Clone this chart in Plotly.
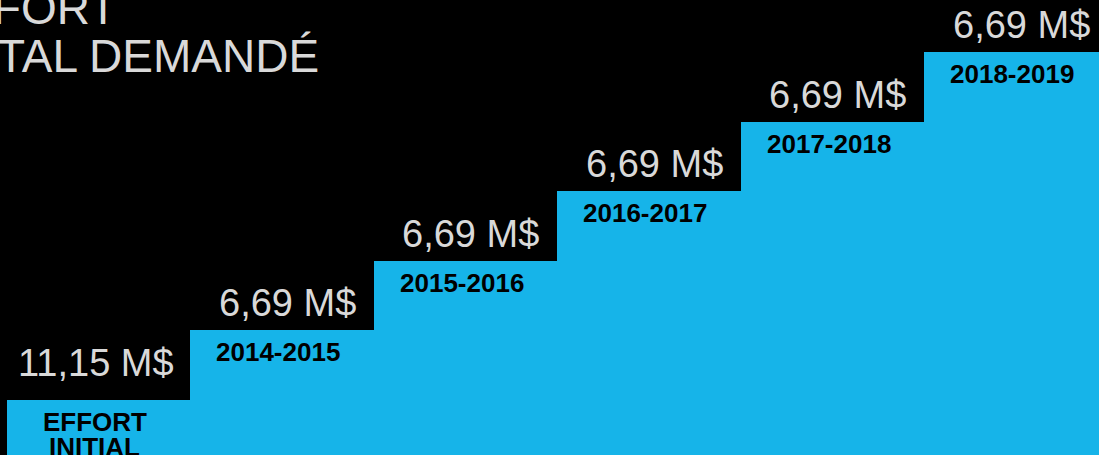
import plotly.graph_objects as go

# Data
categories = ["EFFORT<br>INITIAL", "2014-2015", "2015-2016", "2016-2017", "2017-2018", "2018-2019"]
amount_labels = ["11,15 M$", "6,69 M$", "6,69 M$", "6,69 M$", "6,69 M$", "6,69 M$"]
cumulative_totals = [11.15, 17.84, 24.53, 31.22, 37.91, 44.60]
title_lines = ["EFFORT", "TOTAL DEMANDÉ"]

BLUE = "#16B4E9"
GREY = "#D9D9D9"
FONT = "Liberation Sans, Arial, sans-serif"

x_pos = list(range(len(categories)))

fig = go.Figure()
fig.add_trace(go.Bar(
    x=x_pos, y=cumulative_totals, width=1.0,
    marker=dict(color=BLUE, line=dict(width=0)),
    hoverinfo="skip", showlegend=False,
))

annotations = []
# value labels above each step
for i, (lab, tot) in enumerate(zip(amount_labels, cumulative_totals)):
    annotations.append(dict(
        x=i, y=tot, xref="x", yref="y", text=lab, showarrow=False,
        xanchor="center", yanchor="bottom", xshift=(-3 if i == 0 else 5),
        yshift=(14 if i == 0 else 4),
        font=dict(family=FONT, size=38, color=GREY),
    ))
# category labels below each step top
for i, (cat, tot) in enumerate(zip(categories, cumulative_totals)):
    for j, line in enumerate(cat.split("<br>")):
        annotations.append(dict(
            x=i, y=tot, xref="x", yref="y", text="<b>%s</b>" % line, showarrow=False,
            xanchor="center", yanchor="top", xshift=-4,
            yshift=(-5 if i == 0 else -5) - 25 * j,
            font=dict(family=FONT, size=26, color="#000000"),
        ))
# title (cut off at the left and top edges as in the original)
for j, line in enumerate(title_lines):
    annotations.append(dict(
        x=0, y=1, xref="paper", yref="paper", text=line, showarrow=False,
        xanchor="left", yanchor="top", xshift=-68, yshift=20 - 48 * j,
        font=dict(family=FONT, size=46, color=GREY),
    ))

fig.update_layout(
    width=1099, height=455,
    margin=dict(l=0, r=0, t=0, b=0),
    paper_bgcolor="#000000", plot_bgcolor="#000000",
    bargap=0,
    xaxis=dict(range=[-0.5381, 5.451], visible=False, fixedrange=True),
    yaxis=dict(range=[5.864, 49.598], visible=False, fixedrange=True),
    annotations=annotations,
    showlegend=False,
)

fig.write_html(
    "out.html",
    config={"displayModeBar": False},
    post_script="document.body.style.margin='0';document.body.style.background='#000';",
)
